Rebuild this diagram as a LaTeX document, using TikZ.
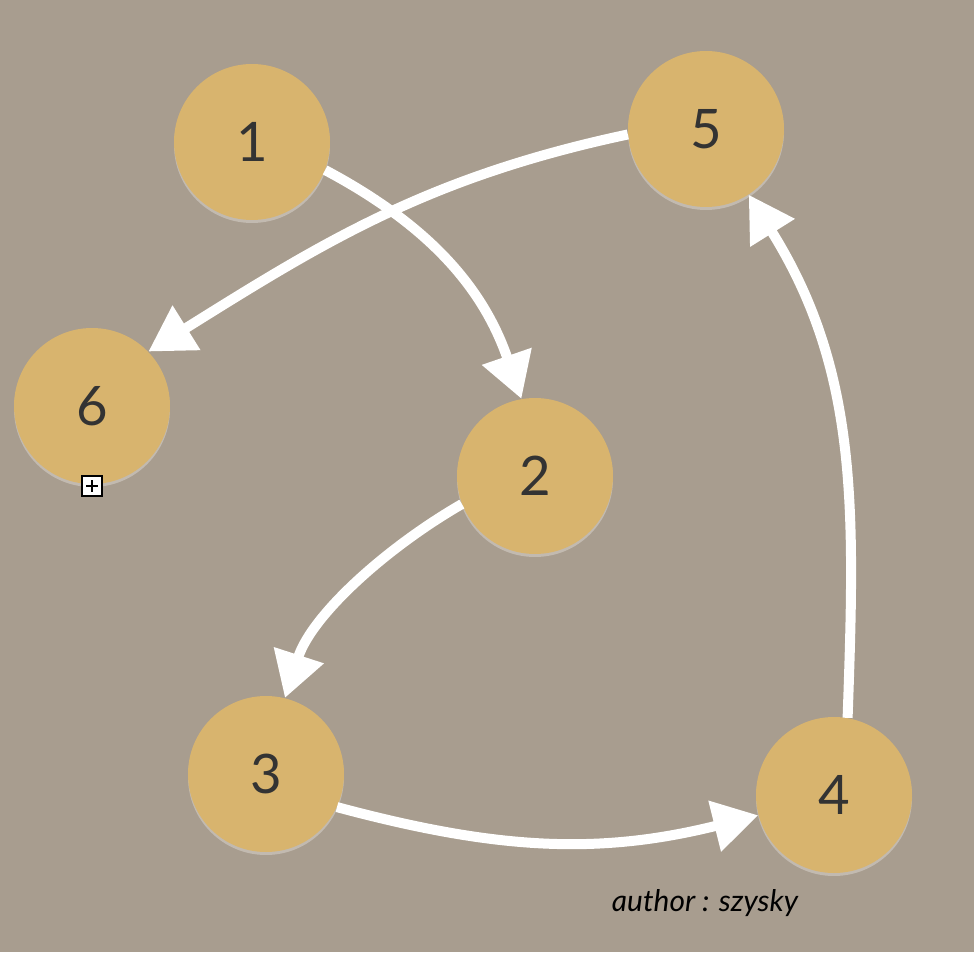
\documentclass[tikz,border=0pt]{standalone}
\usepackage{fontspec}
\setmainfont{Lato}
\usetikzlibrary{arrows.meta,shadows}
\definecolor{board}{RGB}{168,157,143}
\definecolor{disc}{RGB}{216,180,110}
\definecolor{digit}{RGB}{51,51,51}

\begin{document}
\begin{tikzpicture}
  [auto=left,
   vertex/.style={circle,fill=disc,minimum size=3.12cm,inner sep=0pt,
     text=digit,font=\fontsize{31}{34}\selectfont,
     drop shadow={shadow xshift=0pt,shadow yshift=-0.06cm,fill=white,opacity=.3}},
   chalk/.style={draw=white,line width=0.2cm,-{Triangle[length=0.9cm,width=1cm]}}]
  \fill[board] (0,0) rectangle (19.48,19.04);

  \node[vertex] (n1) at (5.04,16.2)  {1};
  \node[vertex] (n5) at (14.12,16.46) {5};
  \node[vertex] (n6) at (1.84,10.92) {6};
  \node[vertex] (n2) at (10.7,9.52)  {2};
  \node[vertex] (n3) at (5.32,3.56)  {3};
  \node[vertex] (n4) at (16.68,3.14) {4};

  \foreach \from/\fa/\to/\ta/\o/\i/\l in {n1/-21/n2/100/-28/109/1,n5/184/n6/44/-168/32/1,
      n2/201/n3/76/-150/72/.85,n3/-25/n4/195/-15/-166/1,n4/80/n5/-57/88/-58/1}
    \draw[chalk] (\from.\fa) to[out=\o,in=\i,looseness=\l] (\to.\ta);

  \node (plus) at (1.84,9.32) [draw=black,fill=white,line width=0.9pt,
    minimum size=0.4cm,inner sep=0pt,
    path picture={
      \draw[line width=0.9pt] ([yshift=-2.5pt]path picture bounding box.north)
        -- ([yshift=2.5pt]path picture bounding box.south);
      \draw[line width=0.9pt] ([xshift=2.5pt]path picture bounding box.west)
        -- ([xshift=-2.5pt]path picture bounding box.east);}] {};

  \node (author) at (14.1,0.98) [text=black,
    font=\fontsize{17}{19}\selectfont\itshape] {author : szysky};

\end{tikzpicture}
\end{document}
